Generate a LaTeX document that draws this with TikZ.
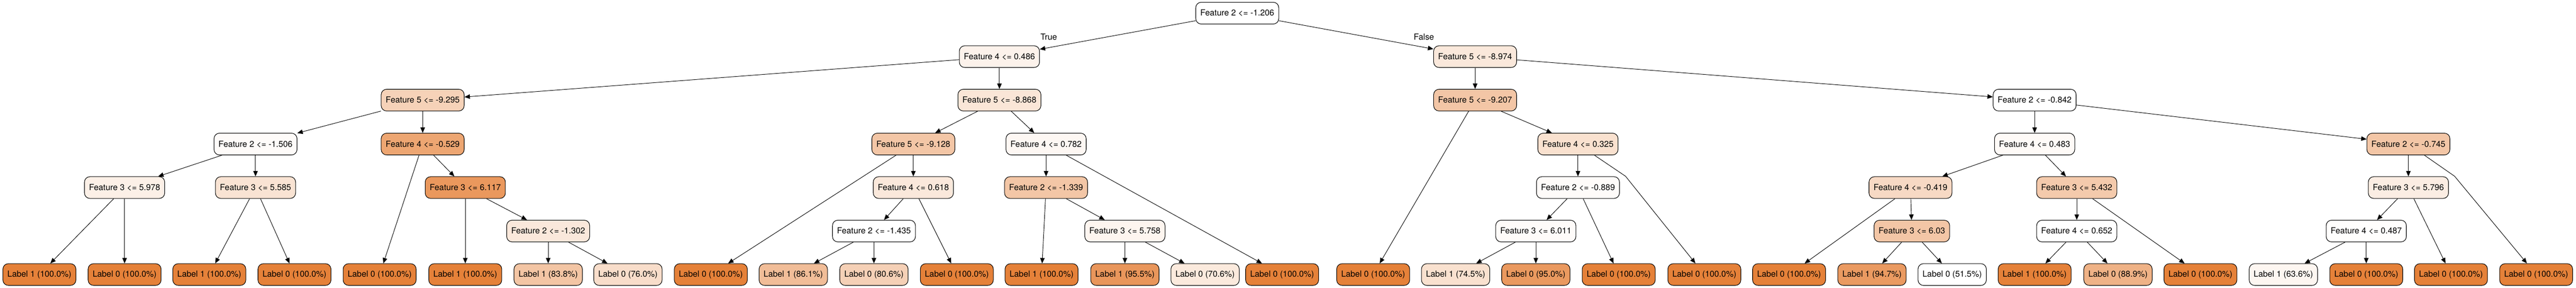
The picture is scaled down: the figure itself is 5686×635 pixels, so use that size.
\documentclass[tikz,border=0pt]{standalone}
\usepackage{fontspec}
\setmainfont{TeX Gyre Heros}
\usetikzlibrary{arrows.meta}
\definecolor{tor}{RGB}{229,129,57}

\begin{document}
\begin{tikzpicture}[x=0.75pt, y=-0.75pt, font=\fontsize{13.9}{16}\selectfont,
    tn/.style={draw, rounded corners=9pt, line width=0.9pt, minimum height=36pt,
               inner xsep=7.5pt, fill=tor!#1},
    tn/.default=0,
    ar/.style={-{Triangle[length=9pt,width=7.5pt]}, line width=0.8pt}]
  \useasboundingbox (0,0) rectangle (5686,635);
  % splits
  \node[tn=0]  (a)  at (2731,29)  {Feature 2 <= -1.206};
  \node[tn=10] (b1) at (2206,125) {Feature 4 <= 0.486};
  \node[tn=18] (b2) at (3256,125) {Feature 5 <= -8.974};
  \node[tn=36] (c1) at (933,221)  {Feature 5 <= -9.295};
  \node[tn=20] (c2) at (2206,221) {Feature 5 <= -8.868};
  \node[tn=45] (c3) at (3256,221) {Feature 5 <= -9.207};
  \node[tn=0]  (c4) at (4491,221) {Feature 2 <= -0.842};
  \node[tn=3]  (d1) at (564,318)  {Feature 2 <= -1.506};
  \node[tn=71] (d2) at (933,318)  {Feature 4 <= -0.529};
  \node[tn=45] (d3) at (2016,318) {Feature 5 <= -9.128};
  \node[tn=6]  (d4) at (2309,318) {Feature 4 <= 0.782};
  \node[tn=24] (d5) at (3483,318) {Feature 4 <= 0.325};
  \node[tn=4]  (d6) at (4491,318) {Feature 4 <= 0.483};
  \node[tn=45] (d7) at (5316,318) {Feature 2 <= -0.745};
  \node[tn=12] (e1) at (275,414)  {Feature 3 <= 5.978};
  \node[tn=22] (e2) at (564,414)  {Feature 3 <= 5.585};
  \node[tn=82] (e3) at (1027,414) {Feature 3 <= 6.117};
  \node[tn=18] (e4) at (2016,414) {Feature 4 <= 0.618};
  \node[tn=45] (e5) at (2309,414) {Feature 2 <= -1.339};
  \node[tn=3]  (e6) at (3483,414) {Feature 2 <= -0.889};
  \node[tn=30] (e7) at (4217,414) {Feature 4 <= -0.419};
  \node[tn=42] (e8) at (4584,414) {Feature 3 <= 5.432};
  \node[tn=14] (e9) at (5316,414) {Feature 3 <= 5.796};
  \node[tn=18] (f1) at (1210,510) {Feature 2 <= -1.302};
  \node[tn=0]  (f2) at (1929,510) {Feature 2 <= -1.435};
  \node[tn=8]  (f3) at (2483,510) {Feature 3 <= 5.758};
  \node[tn=3]  (f4) at (3390,510) {Feature 3 <= 6.011};
  \node[tn=45] (f5) at (4220,510) {Feature 3 <= 6.03};
  \node[tn=0]  (f6) at (4584,510) {Feature 4 <= 0.652};
  \node[tn=1]  (f7) at (5223,510) {Feature 4 <= 0.487};
  % leaves
  \node[tn=100] (l1)  at (87,606)   {Label 1 (100.0\%)};
  \node[tn=100] (l2)  at (275,606)  {Label 0 (100.0\%)};
  \node[tn=100] (l3)  at (462,606)  {Label 1 (100.0\%)};
  \node[tn=100] (l4)  at (650,606)  {Label 0 (100.0\%)};
  \node[tn=100] (l5)  at (838,606)  {Label 0 (100.0\%)};
  \node[tn=100] (l6)  at (1027,606) {Label 1 (100.0\%)};
  \node[tn=46]  (l7)  at (1210,606) {Label 1 (83.8\%)};
  \node[tn=27]  (l8)  at (1386,606) {Label 0 (76.0\%)};
  \node[tn=100] (l9)  at (1569,606) {Label 0 (100.0\%)};
  \node[tn=52]  (l10) at (1751,606) {Label 1 (86.1\%)};
  \node[tn=37]  (l11) at (1929,606) {Label 0 (80.6\%)};
  \node[tn=100] (l12) at (2112,606) {Label 0 (100.0\%)};
  \node[tn=100] (l13) at (2299,606) {Label 1 (100.0\%)};
  \node[tn=83]  (l14) at (2483,606) {Label 1 (95.5\%)};
  \node[tn=17]  (l15) at (2660,606) {Label 0 (70.6\%)};
  \node[tn=100] (l16) at (2830,606) {Label 0 (100.0\%)};
  \node[tn=100] (l17) at (3031,606) {Label 0 (100.0\%)};
  \node[tn=24]  (l18) at (3213,606) {Label 1 (74.5\%)};
  \node[tn=81]  (l19) at (3390,606) {Label 0 (95.0\%)};
  \node[tn=100] (l20) at (3573,606) {Label 0 (100.0\%)};
  \node[tn=100] (l21) at (3762,606) {Label 0 (100.0\%)};
  \node[tn=100] (l22) at (3949,606) {Label 0 (100.0\%)};
  \node[tn=80]  (l23) at (4132,606) {Label 1 (94.7\%)};
  \node[tn=0]   (l24) at (4309,606) {Label 0 (51.5\%)};
  \node[tn=100] (l25) at (4491,606) {Label 1 (100.0\%)};
  \node[tn=61]  (l26) at (4675,606) {Label 0 (88.9\%)};
  \node[tn=100] (l27) at (4857,606) {Label 0 (100.0\%)};
  \node[tn=7]   (l28) at (5040,606) {Label 1 (63.6\%)};
  \node[tn=100] (l29) at (5223,606) {Label 0 (100.0\%)};
  \node[tn=100] (l30) at (5410,606) {Label 0 (100.0\%)};
  \node[tn=100] (l31) at (5598,606) {Label 0 (100.0\%)};
  \node (yes) at (2315,81) {True};
  \node (no)  at (3143,81) {False};
  \coordinate (k1) at (3588,389);
  \coordinate (k2) at (5418,389);
  % edges
  \draw[ar] (a) -- (b1);
  \draw[ar] (a) -- (b2);
  \draw[ar] (b1) -- (c1);
  \draw[ar] (b1) -- (c2);
  \draw[ar] (b2) -- (c3);
  \draw[ar] (b2) -- (c4);
  \draw[ar] (c1) -- (d1);
  \draw[ar] (c1) -- (d2);
  \draw[ar] (c2) -- (d3);
  \draw[ar] (c2) -- (d4);
  \draw[ar] (c3) -- (l17);
  \draw[ar] (c3) -- (d5);
  \draw[ar] (c4) -- (d6);
  \draw[ar] (c4) -- (d7);
  \draw[ar] (d1) -- (e1);
  \draw[ar] (d1) -- (e2);
  \draw[ar] (d2) -- (l5);
  \draw[ar] (d2) -- (e3);
  \draw[ar] (d3) -- (l9);
  \draw[ar] (d3) -- (e4);
  \draw[ar] (d4) -- (e5);
  \draw[ar] (d4) -- (l16);
  \draw[ar] (d5) -- (e6);
  \draw[ar] (d5) -- (k1) -- (l21);
  \draw[ar] (d6) -- (e7);
  \draw[ar] (d6) -- (e8);
  \draw[ar] (d7) -- (e9);
  \draw[ar] (d7) -- (k2) -- (l31);
  \draw[ar] (e1) -- (l1);
  \draw[ar] (e1) -- (l2);
  \draw[ar] (e2) -- (l3);
  \draw[ar] (e2) -- (l4);
  \draw[ar] (e3) -- (l6);
  \draw[ar] (e3) -- (f1);
  \draw[ar] (e4) -- (f2);
  \draw[ar] (e4) -- (l12);
  \draw[ar] (e5) -- (l13);
  \draw[ar] (e5) -- (f3);
  \draw[ar] (e6) -- (f4);
  \draw[ar] (e6) -- (l20);
  \draw[ar] (e7) -- (l22);
  \draw[ar] (e7) -- (f5);
  \draw[ar] (e8) -- (f6);
  \draw[ar] (e8) -- (l27);
  \draw[ar] (e9) -- (f7);
  \draw[ar] (e9) -- (l30);
  \draw[ar] (f1) -- (l7);
  \draw[ar] (f1) -- (l8);
  \draw[ar] (f2) -- (l10);
  \draw[ar] (f2) -- (l11);
  \draw[ar] (f3) -- (l14);
  \draw[ar] (f3) -- (l15);
  \draw[ar] (f4) -- (l18);
  \draw[ar] (f4) -- (l19);
  \draw[ar] (f5) -- (l23);
  \draw[ar] (f5) -- (l24);
  \draw[ar] (f6) -- (l25);
  \draw[ar] (f6) -- (l26);
  \draw[ar] (f7) -- (l28);
  \draw[ar] (f7) -- (l29);
\end{tikzpicture}
\end{document}
